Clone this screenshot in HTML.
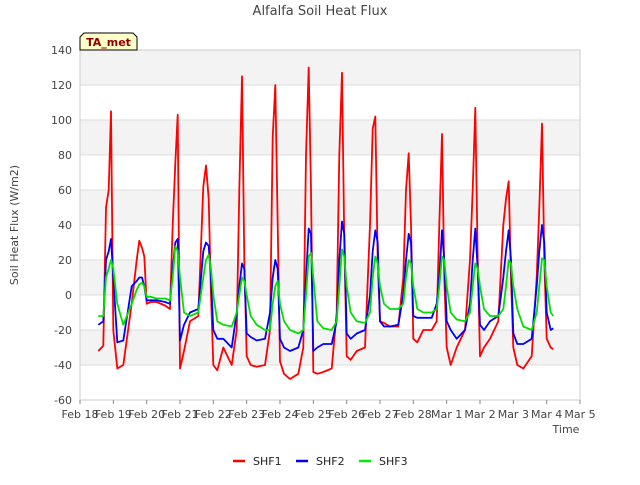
<!DOCTYPE html>
<html><head><meta charset="utf-8">
<style>
body{margin:0;background:#fff;font-family:"Liberation Sans","DejaVu Sans",sans-serif;}
svg text{font-family:"DejaVu Sans","Liberation Sans",sans-serif;}
</style></head>
<body>
<svg id="chart" width="640" height="480" viewBox="0 0 640 480" xmlns="http://www.w3.org/2000/svg">
<text x="320" y="15" text-anchor="middle" font-size="13" fill="#444">Alfalfa Soil Heat Flux</text>
<g id="bands"></g>
<g id="grid"></g>
<rect x="80" y="50" width="500" height="350" fill="none" stroke="#ccc"/>
<g id="yticks"></g>
<g id="xticks"></g>
<text transform="translate(18,225) rotate(-90)" text-anchor="middle" font-size="11" fill="#444">Soil Heat Flux (W/m2)</text>
<text x="566" y="433" text-anchor="middle" font-size="11" fill="#444">Time</text>
<g id="series"></g>
<g>
<path d="M80,50 L80,37 L84,33 L133,33 L137,37 L137,50 Z" fill="#ffffc8" stroke="#000" stroke-width="1"/>
<text x="108.5" y="46" text-anchor="middle" font-size="11" font-weight="bold" fill="#8b0000">TA_met</text>
</g>
<g>
<g><line x1="233" y1="461" x2="245" y2="461" stroke="#f00" stroke-width="2.5"/><text x="253" y="465" font-size="11" fill="#222">SHF1</text></g>
<g><line x1="296" y1="461" x2="308" y2="461" stroke="#00f" stroke-width="2.5"/><text x="316" y="465" font-size="11" fill="#222">SHF2</text></g>
<g><line x1="359" y1="461" x2="371" y2="461" stroke="#0e0" stroke-width="2.5"/><text x="379" y="465" font-size="11" fill="#222">SHF3</text></g>
</g>
</svg>
<script>
const xTickLabels=["Feb 18","Feb 19","Feb 20","Feb 21","Feb 22","Feb 23","Feb 24","Feb 25","Feb 26","Feb 27","Feb 28","Mar 1","Mar 2","Mar 3","Mar 4","Mar 5"];
const yTickValues=[-60,-40,-20,0,20,40,60,80,100,120,140];
const times=[0.55,0.7,0.78,0.86,0.93,
1.0,1.12,1.3,1.55,1.7,1.78,1.86,1.93,
2.0,2.12,2.3,2.55,2.7,2.78,2.86,2.93,
3.0,3.12,3.3,3.55,3.7,3.78,3.86,3.93,
4.0,4.12,4.3,4.55,4.7,4.78,4.86,4.93,
5.0,5.12,5.3,5.55,5.7,5.78,5.86,5.93,
6.0,6.12,6.3,6.55,6.7,6.78,6.86,6.93,
7.0,7.12,7.3,7.55,7.7,7.78,7.86,7.93,
8.0,8.12,8.3,8.55,8.7,8.78,8.86,8.93,
9.0,9.12,9.3,9.55,9.7,9.78,9.86,9.93,
10.0,10.12,10.3,10.55,10.7,10.78,10.86,10.93,
11.0,11.12,11.3,11.55,11.7,11.78,11.86,11.93,
12.0,12.12,12.3,12.55,12.7,12.78,12.86,12.93,
13.0,13.12,13.3,13.55,13.7,13.78,13.86,13.93,
14.0,14.12,14.2];
const shf1=[-32,-29,50,60,105,
-20,-42,-40,-5,20,31,27,22,
-5,-4,-4,-6,-8,40,75,103,
-42,-32,-15,-12,62,74,55,0,
-40,-43,-30,-40,-20,60,125,20,
-35,-40,-41,-40,-20,90,120,40,
-38,-45,-48,-45,-30,80,130,60,
-44,-45,-44,-42,-10,80,127,30,
-35,-37,-32,-30,40,95,102,20,
-15,-16,-18,-18,10,60,81,40,
-25,-27,-20,-20,-15,40,92,10,
-30,-40,-30,-20,20,60,107,20,
-35,-30,-25,-15,40,55,65,10,
-30,-40,-42,-35,10,50,98,20,
-25,-30,-31];
const shf2=[-17,-15,20,25,32,
10,-27,-26,5,8,10,10,5,
-3,-3,-3,-4,-5,15,30,32,
-26,-17,-10,-8,25,30,28,10,
-20,-25,-25,-30,-10,5,18,15,
-22,-24,-26,-25,-10,10,20,15,
-25,-30,-32,-30,-20,10,38,35,
-32,-30,-28,-28,-15,20,42,35,
-22,-25,-22,-20,0,25,37,30,
-15,-18,-18,-17,0,20,35,30,
-12,-13,-13,-13,-5,10,37,20,
-15,-20,-25,-20,-5,20,38,15,
-17,-20,-15,-12,10,25,37,20,
-22,-28,-28,-25,5,25,40,30,
-10,-20,-19];
const shf3=[-12,-12,10,15,20,
15,-5,-17,-5,3,6,7,5,
-1,-1,-2,-2,-3,10,28,25,
10,-10,-12,-10,10,20,23,15,
0,-15,-17,-18,-10,0,10,8,
0,-12,-17,-20,-20,-5,5,8,
-5,-15,-20,-22,-20,0,22,24,
10,-15,-19,-20,-15,5,26,22,
5,-10,-15,-16,-10,10,22,18,
5,-5,-8,-8,-5,10,20,18,
5,-8,-10,-10,-8,5,22,20,
5,-10,-14,-15,-10,5,18,15,
5,-8,-12,-12,-8,5,20,18,
5,-8,-18,-20,-10,5,21,20,
5,-10,-12];
const seriesNames=["SHF1","SHF2","SHF3"];
const seriesColors=["#ff0000","#0000ff","#00e000"];

const NS="http://www.w3.org/2000/svg";
const X0=80,X1=580,Y0=400,Y1=50,XMIN=0,XMAX=15,YMIN=-60,YMAX=140;
function xs(t){return X0+(t-XMIN)/(XMAX-XMIN)*(X1-X0);}
function ys(v){return Y0-(v-YMIN)/(YMAX-YMIN)*(Y0-Y1);}
function mk(tag,attrs,parent){const e=document.createElementNS(NS,tag);for(const k in attrs)e.setAttribute(k,attrs[k]);parent.appendChild(e);return e;}
const bands=document.getElementById('bands'),grid=document.getElementById('grid'),yt=document.getElementById('yticks'),xt=document.getElementById('xticks'),sg=document.getElementById('series');
for(let i=0;i<yTickValues.length-1;i++){
  if((yTickValues.length-2-i)%2===0){
    const r=mk('rect',{x:X0,y:ys(yTickValues[i+1]),width:X1-X0,height:ys(yTickValues[i])-ys(yTickValues[i+1]),fill:'#f3f3f3'},bands);
    
    
  }
}
yTickValues.forEach(v=>{
  const l=mk('line',{x1:X0,x2:X1,y1:ys(v),y2:ys(v),stroke:'#ddd','stroke-width':1},grid);
  
  
  const t=mk('text',{x:X0-8,y:ys(v)+4,'text-anchor':'end','font-size':11,fill:'#444'},yt);
  t.textContent=v;
  
  
});
xTickLabels.forEach((lab,i)=>{
  const x=xs(i);
  const l=mk('line',{x1:x,x2:x,y1:Y0,y2:Y0+4,stroke:'#888'},xt);
  
  
  const t=mk('text',{x:x,y:Y0+18,'text-anchor':'middle','font-size':11,fill:'#444'},xt);
  t.textContent=lab;
  
  
});
[shf1,shf2,shf3].forEach((vals,si)=>{
  const pts=vals.map((v,i)=>xs(times[i]).toFixed(1)+','+ys(v).toFixed(1)).join(' ');
  const p=mk('polyline',{points:pts,fill:'none',stroke:seriesColors[si],'stroke-width':1.8,'stroke-linejoin':'round'},sg);
  
  
});
</script>
</body></html>
